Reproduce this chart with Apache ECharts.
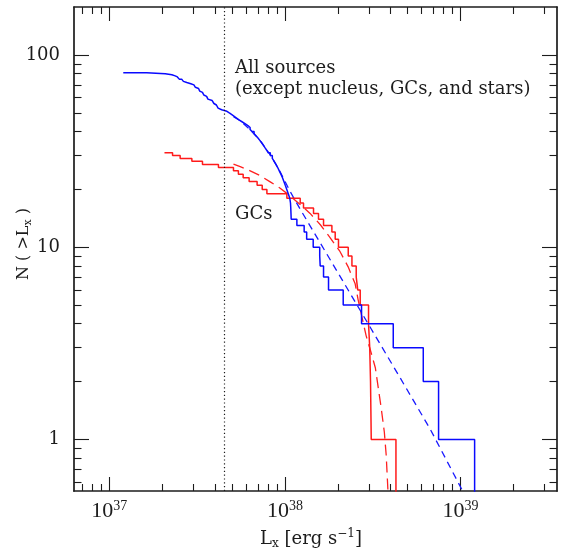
<!DOCTYPE html>
<html>
<head>
<meta charset="utf-8">
<script src="https://cdn.jsdelivr.net/npm/echarts@6/dist/echarts.min.js"></script>
<style>
  html, body { margin: 0; padding: 0; background: #fff; }
  #chart { width: 564px; height: 550px; }
</style>
</head>
<body>
<div id="chart"></div>
<script>
// Luminosities are in units of 1e37 erg/s.
// Cumulative curves: first value is the faint end, every next value is where N(>Lx) drops by one.
var allLx = [1.20, 1.63, 2.08, 2.27, 2.37, 2.44, 2.50, 2.58, 2.64, 2.70, 2.76, 2.91, 3.03, 3.09,
    3.16, 3.22, 3.27, 3.33, 3.39, 3.45, 3.51, 3.58, 3.64, 3.73, 3.85, 3.94, 4.01, 4.07, 4.16,
    4.26, 4.36, 4.67, 4.82, 4.98, 5.14, 5.30, 5.47, 5.69, 5.92, 6.15, 6.33, 6.49, 6.67, 6.84,
    7.02, 7.19, 7.37, 7.53, 7.69, 7.87, 8.03, 8.25, 8.47, 8.68, 8.89, 9.09, 9.28, 9.48, 9.68,
    9.86, 10.04, 10.24, 10.44, 10.65, 10.75, 10.79, 10.82, 10.85, 11.69, 12.86, 13.29, 14.48,
    15.77, 15.87, 16.58, 17.70, 21.46, 27.29, 41.36, 61.31, 74.93, 120.2];
var gcLx = [2.06, 2.29, 2.53, 2.95, 3.39, 4.18, 5.09, 5.43, 5.78, 6.25, 6.94, 7.42, 7.89, 10.25,
    12.21, 12.75, 14.54, 15.52, 16.58, 18.50, 19.32, 20.17, 22.92, 24.06, 25.45, 25.96, 26.82,
    29.91, 30.38, 30.70, 30.99, 42.85];

// model fits (dashed)
var allFitLx = [5.09, 5.56, 6.34, 7.22, 8.24, 9.39, 10.7, 12.2, 18.1, 26.8, 45.3, 67.2, 106];
var allFitN = [47.8, 45.6, 40.9, 35.9, 30.3, 24.7, 19.5, 15.8, 8.61, 4.70, 2.09, 1.13, 0.51];
var gcFitLx = [5.09, 5.56, 6.34, 7.22, 8.24, 9.39, 10.7, 12.2, 13.9, 15.9, 18.1, 20.6, 22.9,
    25.1, 26.1, 27.5, 29.0, 30.6, 32.7, 34.0, 35.3, 36.8, 37.7, 38.7];
var gcFitN = [27.1, 26.3, 25.0, 23.6, 21.9, 20.3, 18.5, 16.7, 15.0, 13.1, 11.2, 9.48, 7.91,
    6.45, 5.33, 4.29, 3.46, 2.93, 2.36, 1.85, 1.46, 1.09, 0.83, 0.51];

// completeness limit (dotted line)
var limitLx = 4.5;

var xMajor = [1, 10, 100];
var yMajor = [1, 10, 100];

var xMin = 0.629, xMax = 354;
var yMin = 0.539, yMax = 178;
var OFF_AXIS = 0.1;   // N = 0 lies below the log axis

var ink = '#1c1c1c';
var serif = 'DejaVu Serif';

function minorValues(lo, hi) {
    var out = [];
    for (var p = -1; p <= 3; p++) {
        for (var m = 2; m <= 9; m++) {
            var v = +(m * Math.pow(10, p)).toPrecision(3);
            if (v > lo && v < hi) out.push(v);
        }
    }
    return out;
}

function stepData(lx) {
    var total = lx.length - 1;
    return lx.map(function (l, i) {
        var n = total - i;
        return [l, n > 0 ? n : OFF_AXIS];
    });
}

function pairs(xs, ys) {
    return xs.map(function (x, i) { return [x, ys[i]]; });
}

function axis(pos, grid, min, max, ticks, len, line, label) {
    return {
        type: 'log', logBase: 10, gridIndex: grid, position: pos,
        min: min, max: max,
        axisLine: { show: line, onZero: false, lineStyle: { color: ink, width: 1.7 } },
        axisTick: { show: true, inside: true, length: len, customValues: ticks,
            lineStyle: { color: ink, width: 1.1 } },
        axisLabel: label || { show: false },
        splitLine: { show: false },
        minorTick: { show: false },
        minorSplitLine: { show: false }
    };
}

var xLabel = {
    show: true, customValues: xMajor, margin: 8, color: ink,
    formatter: function (v) {
        return '{b|10}{s|' + (Math.round(Math.log10(v)) + 37) + '}';
    },
    rich: {
        b: { fontFamily: 'Liberation Serif', fontSize: 22, lineHeight: 24, color: ink },
        s: { fontFamily: 'Liberation Serif', fontSize: 14, lineHeight: 14, verticalAlign: 'top', color: ink }
    }
};
var yLabel = {
    show: true, customValues: yMajor, margin: 14, color: ink,
    fontFamily: serif, fontSize: 18,
    formatter: function (v) { return String(Math.round(v)); }
};

var chart = echarts.init(document.getElementById('chart'));

var option = {
    animation: false,
    backgroundColor: '#fff',
    grid: [
        { left: 74, top: 7, width: 483, height: 484, containLabel: false, outerBoundsMode: 'none' },
        { left: 74, top: 7, width: 483, height: 484, containLabel: false, outerBoundsMode: 'none' }
    ],
    xAxis: [
        axis('bottom', 0, xMin, xMax, xMajor, 14, true, xLabel),
        axis('top', 0, xMin, xMax, xMajor, 14, true),
        axis('bottom', 1, xMin, xMax, minorValues(xMin, xMax), 7, false),
        axis('top', 1, xMin, xMax, minorValues(xMin, xMax), 7, false)
    ],
    yAxis: [
        axis('left', 0, yMin, yMax, yMajor, 15, true, yLabel),
        axis('right', 0, yMin, yMax, yMajor, 15, true),
        axis('left', 1, yMin, yMax, minorValues(yMin, yMax), 7.5, false),
        axis('right', 1, yMin, yMax, minorValues(yMin, yMax), 7.5, false)
    ],
    series: [
        {
            name: 'GCs fit', type: 'line', xAxisIndex: 0, yAxisIndex: 0,
            data: pairs(gcFitLx, gcFitN), showSymbol: false, symbol: 'none', clip: true,
            lineStyle: { color: '#ff2020', width: 1.3, type: [11, 6] }
        },
        {
            name: 'All fit', type: 'line', xAxisIndex: 0, yAxisIndex: 0,
            data: pairs(allFitLx, allFitN), showSymbol: false, symbol: 'none', clip: true,
            lineStyle: { color: '#1a1aff', width: 1.3, type: [7, 5] },
            markLine: {
                silent: true, symbol: ['none', 'none'], label: { show: false },
                lineStyle: { color: ink, width: 1.2, type: [1.2, 2.6] },
                data: [{ xAxis: limitLx }]
            }
        },
        {
            name: 'GCs', type: 'line', step: 'end', xAxisIndex: 0, yAxisIndex: 0,
            data: stepData(gcLx), showSymbol: false, symbol: 'none', clip: true,
            lineStyle: { color: '#ff1a1a', width: 1.5 }
        },
        {
            name: 'All sources', type: 'line', step: 'end', xAxisIndex: 0, yAxisIndex: 0,
            data: stepData(allLx), showSymbol: false, symbol: 'none', clip: true,
            lineStyle: { color: '#0a0aff', width: 1.5 }
        }
    ],
    graphic: [
        {
            type: 'text', left: 235, top: 59,
            style: { text: 'All sources', font: '18px "DejaVu Serif"', fill: ink }
        },
        {
            type: 'text', left: 235, top: 80,
            style: { text: '(except nucleus, GCs, and stars)', font: '18px "DejaVu Serif"', fill: ink }
        },
        {
            type: 'text', left: 235, top: 205,
            style: { text: 'GCs', font: '18px "DejaVu Serif"', fill: ink }
        },
        {
            type: 'text', x: 311, y: 539,
            style: {
                text: '{n|L}{sub|x}{n| [erg s}{sup|\u22121}{n|]}',
                align: 'center', verticalAlign: 'middle', fill: ink,
                rich: {
                    n: { fontFamily: serif, fontSize: 18, lineHeight: 22, fill: ink },
                    sub: { fontFamily: serif, fontSize: 12, lineHeight: 12, verticalAlign: 'bottom', fill: ink },
                    sup: { fontFamily: serif, fontSize: 12, lineHeight: 12, verticalAlign: 'top', fill: ink }
                }
            }
        },
        {
            type: 'text', x: 24, y: 244, rotation: Math.PI / 2,
            style: {
                text: '{n|N ( >L}{sub|x}{n| )}',
                align: 'center', verticalAlign: 'middle', fill: ink,
                rich: {
                    n: { fontFamily: serif, fontSize: 16, lineHeight: 20, fill: ink },
                    sub: { fontFamily: serif, fontSize: 11, lineHeight: 11, verticalAlign: 'bottom', fill: ink }
                }
            }
        }
    ]
};

chart.setOption(option);
</script>
</body>
</html>
